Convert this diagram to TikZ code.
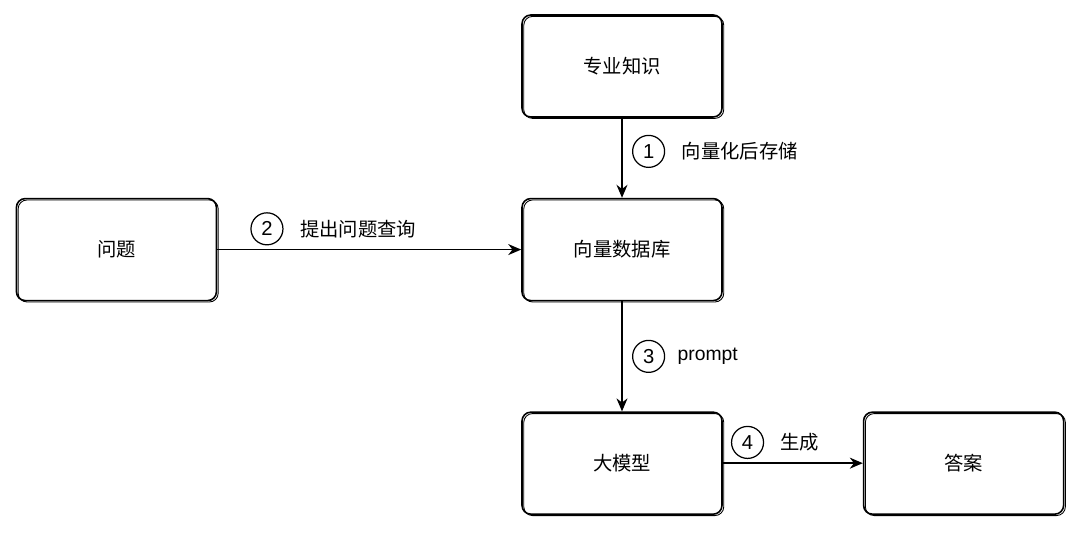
\documentclass[tikz,border=0pt]{standalone}
\usepackage{fontspec}
\setmainfont{Liberation Sans}
\newfontfamily\cjk{Noto Sans CJK SC}
\usetikzlibrary{arrows.meta, positioning}

\begin{document}
\begin{tikzpicture}[>={Stealth[length=2.6mm, width=2.2mm]}, auto,
    box/.style={draw, rectangle, rounded corners=5pt, line width=0.9pt,
                minimum height=2.04cm, minimum width=4.0cm,
                align=center, font=\cjk\fontsize{11}{13}\selectfont,
                postaction={draw, line width=0.5pt, rounded corners=8pt,
                            transform canvas={shift={(1pt,-0.8pt)}}}},
    num/.style={draw, circle, minimum size=0.64cm, inner sep=0pt, line width=0.7pt,
                font=\fontsize{11.5}{13}\selectfont},
    lbl/.style={inner sep=1pt, font=\cjk\fontsize{11}{13}\selectfont},
    every path/.append style={line width=0.8pt},
    node distance=0pt
  ]
  \useasboundingbox (0,0) rectangle (21.6,-10.66);

  \node[box] (kb) at (12.44,-1.32) {专业知识};
  \node[box, below=1.6cm of kb]  (vdb) {向量数据库};
  \node[box, left=6.08cm of vdb] (ask) {问题};
  \node[box, below=2.2cm of vdb] (llm) {大模型};
  \node[box, right=2.8cm of llm] (ans) {答案};

  % 1: knowledge -> vector db
  \draw[->] (kb.south) -- node[pos=0.42, right=0.2cm, num] (n1) {1} (vdb.north);
  \node[lbl, right=0.28cm of n1] {向量化后存储};

  % 2: question -> vector db
  \draw[->] (ask.east) -- (vdb.west);
  \node[num, above right=0.18cm and 0.76cm of ask.east] (n2) {2};
  \node[lbl, right=0.28cm of n2] {提出问题查询};

  % 3: vector db -> model
  \draw[->] (vdb.south) -- node[midway, right=0.2cm, num] (n3) {3} (llm.north);
  \node[lbl, right=0.2cm of n3, font=\fontsize{11}{13}\selectfont] {prompt};

  % 4: model -> answer
  \draw[->] (llm.east) -- (ans.west);
  \node[num, above right=0.18cm and 0.26cm of llm.east] (n4) {4};
  \node[lbl, right=0.28cm of n4] {生成};
\end{tikzpicture}
\end{document}
